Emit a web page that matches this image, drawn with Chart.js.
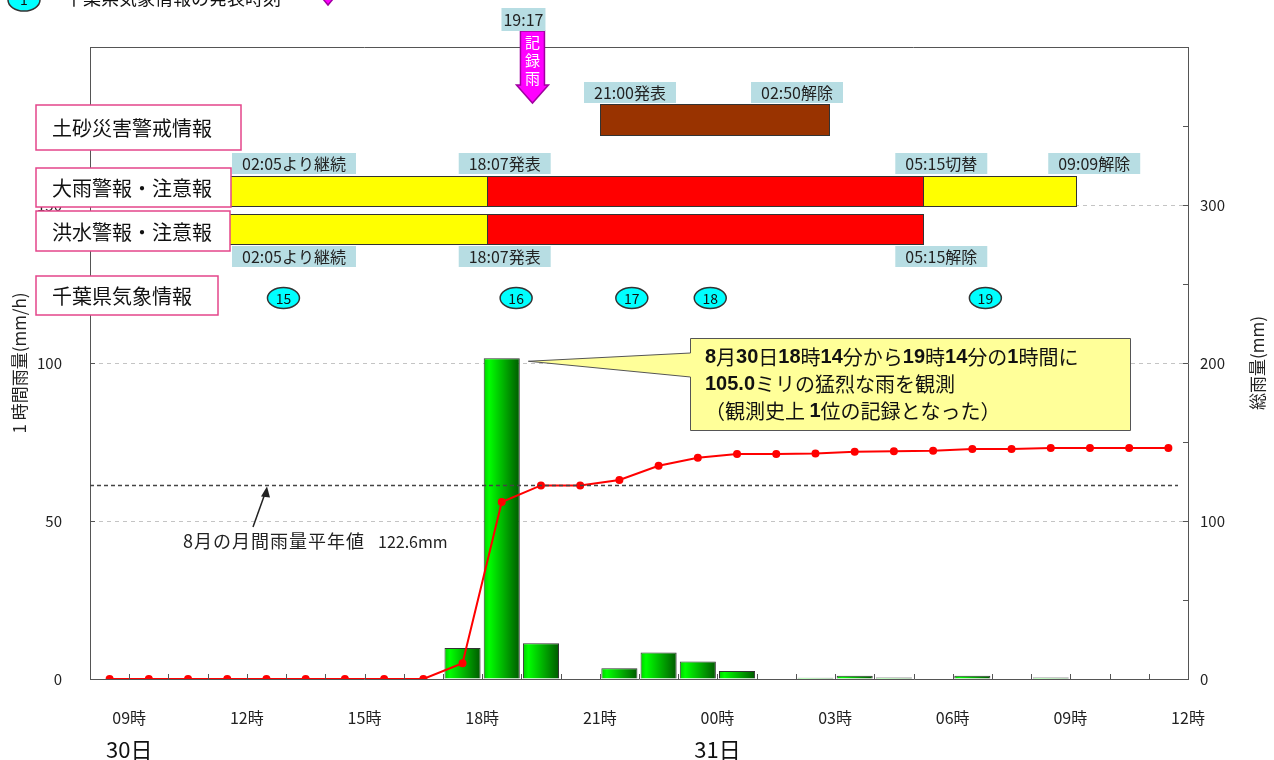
<!DOCTYPE html>
<html>
<head>
<meta charset="utf-8">
<script src="https://cdn.jsdelivr.net/npm/chart.js@4.4.1/dist/chart.umd.min.js"></script>
<style>
html, body { margin: 0; background: #fff; }
canvas { display: block; }
</style>
</head>
<body>
<canvas id="rainChart" width="1274" height="760"></canvas>
<script>
// hour bins, 30日 08時 .. 31日 11時
const hourLabels = ['08','09','10','11','12','13','14','15','16','17','18','19','20','21','22','23',
                    '00','01','02','03','04','05','06','07','08','09','10','11'];
const hourlyRain = [0,0,0,0,0,0,0,0,0,9.8,101.5,11.3,0,3.4,8.4,5.5,2.5,0,0.4,1.0,0.5,0,1.0,0,0.5,0,0,0];
const totalRain  = [0,0,0,0,0,0,0,0,0,10,112,122.5,122.5,126,135,140,142.4,142.4,142.8,143.9,144.1,144.5,
                    145.5,145.5,146.2,146.2,146.2,146.2];
const tickLabels = ['09時','12時','15時','18時','21時','00時','03時','06時','09時','12時'];
const tickHours  = [1,4,7,10,13,16,19,22,25,28];
const dayLabels = ['30日','31日'];
const dayLabelHours = [1,16];

// hours counted from 30日 08:00
const h = (day, hm) => {
    const [H, M] = hm.split(':').map(Number);
    return (day - 30) * 24 + H + M / 60 - 8;
};
const normalMonthly = 122.6;
const recordTime = h(30, '19:17');
const doshaTimes = [h(30, '21:00'), h(31, '02:50')];
const doshaTags = ['21:00発表', '02:50解除'];
const heavyRainTimes = [h(30, '02:05'), h(30, '18:07'), h(31, '05:15'), h(31, '09:09')];
const heavyRainTags = ['02:05より継続', '18:07発表', '05:15切替', '09:09解除'];
const floodTimes = [h(30, '02:05'), h(30, '18:07'), h(31, '05:15')];
const floodTags = ['02:05より継続', '18:07発表', '05:15解除'];
const warnLevels = ['注意報', '警報', '注意報'];
const infoNumbers = [15, 16, 17, 18, 19];
const infoTimes = [h(30, '12:56'), h(30, '18:52'), h(30, '21:49'), h(30, '23:49'), h(31, '06:50')];

const FONT = "'Noto Sans CJK JP', 'Noto Sans', sans-serif";
const NUMFONT = "'Liberation Sans', Arial, sans-serif";

function tag(ctx, text, x, y, align) {
    ctx.font = '16px ' + FONT;
    const w = ctx.measureText(text).width + 20;
    let left = x;
    if (align === 'right') left = x - w;
    if (align === 'center') left = x - w / 2;
    ctx.fillStyle = '#b7dde3';
    ctx.fillRect(left, y, w, 21);
    ctx.fillStyle = '#222';
    ctx.textAlign = 'left';
    ctx.textBaseline = 'middle';
    ctx.fillText(text, left + 10, y + 11);
}

function rowBox(ctx, text, x0, y0, x1, y1) {
    ctx.fillStyle = '#fff';
    ctx.fillRect(x0, y0, x1 - x0, y1 - y0);
    ctx.strokeStyle = '#e4468a';
    ctx.lineWidth = 1.5;
    ctx.strokeRect(x0, y0, x1 - x0, y1 - y0);
    ctx.fillStyle = '#111';
    ctx.font = '20px ' + FONT;
    ctx.textAlign = 'left';
    ctx.textBaseline = 'middle';
    ctx.fillText(text, x0 + 16, (y0 + y1) / 2 + 1);
}

function runs(ctx, text, x, y) {
    text.split(/([0-9.]+)/).forEach(part => {
        if (!part) return;
        ctx.font = /^[0-9.]+$/.test(part) ? 'bold 20px ' + NUMFONT : '20px ' + FONT;
        ctx.fillText(part, x, y);
        x += ctx.measureText(part).width;
    });
}

function barFill(c) {
    const xs = c.chart.scales.x;
    if (c.type !== 'data' || !xs) return '#00cc00';
    const l = xs.getPixelForValue(c.raw.x - 0.46);
    const r = xs.getPixelForValue(c.raw.x + 0.46);
    if (!isFinite(l) || !isFinite(r)) return '#00cc00';
    const g = c.chart.ctx.createLinearGradient(l, 0, r, 0);
    g.addColorStop(0, '#00d000');
    g.addColorStop(0.15, '#00ff00');
    g.addColorStop(1, '#005a00');
    return g;
}

const overlay = {
    id: 'overlay',
    afterDraw(chart) {
        const {ctx, chartArea: a, scales: {x, y, y2}} = chart;
        const xp = v => x.getPixelForValue(v);
        ctx.save();

        // inward tick marks and top frame
        ctx.strokeStyle = '#555';
        ctx.lineWidth = 1;
        ctx.beginPath();
        y.ticks.forEach(t => {
            if (t.value >= y.max) return;
            const p = Math.round(y.getPixelForValue(t.value)) + 0.5;
            ctx.moveTo(a.left, p); ctx.lineTo(a.left + 5, p);
        });
        y2.ticks.forEach(t => {
            if (t.value >= y2.max) return;
            const p = Math.round(y2.getPixelForValue(t.value)) + 0.5;
            ctx.moveTo(a.right - 5, p); ctx.lineTo(a.right, p);
        });
        x.ticks.forEach(t => {
            if (t.value <= x.min || t.value >= x.max) return;
            const p = Math.round(xp(t.value)) + 0.5;
            ctx.moveTo(p, a.bottom); ctx.lineTo(p, a.bottom - 5);
        });
        ctx.moveTo(a.left, a.top + 0.5); ctx.lineTo(a.right, a.top + 0.5);
        ctx.stroke();

        // monthly normal line
        const yn = Math.round(y2.getPixelForValue(normalMonthly)) + 0.5;
        ctx.strokeStyle = '#444';
        ctx.lineWidth = 1.5;
        ctx.setLineDash([4, 3]);
        ctx.beginPath();
        ctx.moveTo(a.left, yn); ctx.lineTo(a.right - 10, yn);
        ctx.stroke();
        ctx.setLineDash([]);
        ctx.lineWidth = 1.5;
        ctx.strokeStyle = '#222';
        ctx.fillStyle = '#222';
        ctx.beginPath();
        ctx.moveTo(253, 527); ctx.lineTo(265, yn + 8);
        ctx.stroke();
        ctx.beginPath();
        ctx.moveTo(267, yn + 1); ctx.lineTo(261, yn + 11); ctx.lineTo(270, yn + 12);
        ctx.closePath(); ctx.fill();
        ctx.font = '18px ' + FONT;
        ctx.textAlign = 'left';
        ctx.textBaseline = 'middle';
        ctx.letterSpacing = '1px';
        ctx.fillText('8月の月間雨量平年値', 183, 541);
        ctx.letterSpacing = '0px';
        ctx.font = '16px ' + FONT;
        ctx.fillText('122.6mm', 378, 542);

        // callout
        const tipX = xp(11) + 7, tipY = y.getPixelForValue(hourlyRain[10]) + 3;
        ctx.fillStyle = '#ffff99';
        ctx.strokeStyle = '#555';
        ctx.lineWidth = 1;
        ctx.beginPath();
        ctx.moveTo(690.5, 338.5); ctx.lineTo(1130.5, 338.5); ctx.lineTo(1130.5, 430.5); ctx.lineTo(690.5, 430.5);
        ctx.lineTo(690.5, 377); ctx.lineTo(tipX, tipY); ctx.lineTo(690.5, 353);
        ctx.closePath();
        ctx.fill(); ctx.stroke();
        ctx.fillStyle = '#111';
        ctx.textBaseline = 'middle';
        runs(ctx, '8月30日18時14分から19時14分の1時間に', 705, 357);
        runs(ctx, '105.0ミリの猛烈な雨を観測', 705, 384);
        runs(ctx, '（観測史上 1位の記録となった）', 705, 411);

        // 土砂災害警戒情報 bar
        ctx.fillStyle = '#993300';
        ctx.strokeStyle = '#333';
        ctx.lineWidth = 1;
        const d0 = Math.round(xp(doshaTimes[0])), d1 = Math.round(xp(doshaTimes[1]));
        ctx.fillRect(d0, 104, d1 - d0, 32);
        ctx.strokeRect(d0 + 0.5, 104.5, d1 - d0, 31);
        tag(ctx, doshaTags[0], d0 - 16, 82, 'left');
        tag(ctx, doshaTags[1], d1 + 14, 82, 'right');

        // warning rows
        const levelColor = lv => lv === '警報' ? '#ff0000' : '#ffff00';
        const drawRow = (times, top) => {
            for (let i = 0; i < times.length - 1; i++) {
                const s = Math.round(Math.max(xp(times[i]), a.left)), e = Math.round(xp(times[i + 1]));
                ctx.fillStyle = levelColor(warnLevels[i]);
                ctx.fillRect(s, top, e - s, 31);
                ctx.strokeStyle = '#333';
                ctx.strokeRect(s + 0.5, top + 0.5, e - s, 30);
            }
        };
        drawRow(heavyRainTimes, 176);
        drawRow(floodTimes, 214);

        rowBox(ctx, '土砂災害警戒情報', 36, 105, 241, 150);
        rowBox(ctx, '大雨警報・注意報', 36, 168, 231, 207);
        rowBox(ctx, '洪水警報・注意報', 36, 211, 230, 251);
        rowBox(ctx, '千葉県気象情報', 36, 276, 218, 315);

        heavyRainTags.forEach((t, i) => {
            if (i === 0) tag(ctx, t, 232, 153, 'left');
            else tag(ctx, t, xp(heavyRainTimes[i]) - 28, 153, 'left');
        });
        floodTags.forEach((t, i) => {
            if (i === 0) tag(ctx, t, 232, 246, 'left');
            else tag(ctx, t, xp(floodTimes[i]) - 28, 246, 'left');
        });

        // info bulletins
        infoTimes.forEach((t, i) => {
            const cx = xp(t);
            ctx.beginPath();
            ctx.ellipse(cx, 298, 16, 10.5, 0, 0, Math.PI * 2);
            ctx.fillStyle = '#00ffff';
            ctx.fill();
            ctx.strokeStyle = '#333';
            ctx.stroke();
            ctx.fillStyle = '#111';
            ctx.font = '14px ' + FONT;
            ctx.textAlign = 'center';
            ctx.fillText(String(infoNumbers[i]), cx, 299);
        });

        // 記録雨 arrow
        const xr = xp(recordTime);
        ctx.beginPath();
        ctx.moveTo(xr - 12, 31); ctx.lineTo(xr + 12, 31); ctx.lineTo(xr + 12, 85);
        ctx.lineTo(xr + 16, 85); ctx.lineTo(xr, 103); ctx.lineTo(xr - 16, 85);
        ctx.lineTo(xr - 12, 85); ctx.closePath();
        ctx.fillStyle = '#ff00ff';
        ctx.fill();
        ctx.strokeStyle = '#a000a0';
        ctx.stroke();
        ctx.fillStyle = '#fff';
        ctx.font = '15px ' + FONT;
        ctx.textAlign = 'center';
        ['記', '録', '雨'].forEach((c, i) => ctx.fillText(c, xr, 42 + i * 18));
        ctx.font = '16px ' + FONT;
        ctx.fillStyle = '#b7dde3';
        ctx.fillRect(xr - 31, 8, 44, 23);
        ctx.fillStyle = '#222';
        ctx.fillText('19:17', xr - 9, 20);

        // legend cut at top
        ctx.beginPath();
        ctx.ellipse(24, 0, 16, 11, 0, 0, Math.PI * 2);
        ctx.fillStyle = '#00ffff';
        ctx.fill();
        ctx.strokeStyle = '#333';
        ctx.stroke();
        ctx.fillStyle = '#111';
        ctx.font = '14px ' + FONT;
        ctx.fillText('1', 24, 0);
        ctx.font = '18px ' + FONT;
        ctx.textAlign = 'left';
        ctx.fillText('千葉県気象情報の発表時刻', 65, -2);
        ctx.beginPath();
        ctx.moveTo(323, -1); ctx.lineTo(333, -1); ctx.lineTo(328, 5); ctx.closePath();
        ctx.fillStyle = '#ff00ff';
        ctx.fill();
        ctx.strokeStyle = '#a000a0';
        ctx.stroke();

        // day labels
        ctx.fillStyle = '#111';
        ctx.font = '22px ' + FONT;
        ctx.textAlign = 'center';
        dayLabels.forEach((d, i) => ctx.fillText(d, xp(dayLabelHours[i]), 750));

        // right axis title, reading bottom to top
        ctx.translate(1258, (a.top + a.bottom) / 2);
        ctx.rotate(-Math.PI / 2);
        ctx.font = '17px ' + FONT;
        ctx.fillStyle = '#222';
        ctx.fillText('総雨量(mm)', 0, 0);
        ctx.restore();
    }
};

const ctx = document.getElementById('rainChart').getContext('2d');
new Chart(ctx, {
    type: 'bar',
    data: {
        labels: hourLabels,
        datasets: [{
            type: 'line',
            label: '総雨量',
            data: totalRain.map((v, i) => ({x: i + 0.5, y: v})),
            yAxisID: 'y2',
            borderColor: '#ff0000',
            backgroundColor: '#ff0000',
            borderWidth: 2,
            pointRadius: 3,
            pointHoverRadius: 3,
            tension: 0,
            order: 0
        }, {
            label: '1時間雨量',
            data: hourlyRain.map((v, i) => ({x: i + 0.5, y: v})),
            yAxisID: 'y',
            backgroundColor: barFill,
            borderColor: '#333',
            borderWidth: 1,
            barPercentage: 1,
            categoryPercentage: 0.92,
            order: 1
        }]
    },
    options: {
        responsive: false,
        animation: false,
        layout: {padding: {top: 47}},
        plugins: {
            legend: {display: false},
            tooltip: {enabled: false}
        },
        scales: {
            x: {
                type: 'linear',
                min: 0,
                max: 28,
                offset: false,
                afterFit: s => { s.height = 81; },
                grid: {display: false, drawTicks: false},
                border: {color: '#555'},
                ticks: {
                    stepSize: 1,
                    autoSkip: false,
                    maxRotation: 0,
                    padding: 29,
                    color: '#222',
                    font: {family: FONT, size: 16},
                    callback: v => {
                        const i = tickHours.indexOf(v);
                        return i < 0 ? '' : tickLabels[i];
                    }
                }
            },
            y: {
                position: 'left',
                min: 0,
                max: 200,
                afterFit: s => { s.width = 90; },
                grid: {
                    drawTicks: false,
                    color: c => [50, 100, 150].includes(c.tick && c.tick.value) ? '#c4c4c4' : 'rgba(0,0,0,0)'
                },
                border: {color: '#555', dash: [4, 4]},
                ticks: {
                    stepSize: 50,
                    padding: 28,
                    color: '#222',
                    font: {family: FONT, size: 15},
                    callback: v => v === 200 ? '' : v
                },
                title: {
                    display: true,
                    text: '1 時間雨量(mm/h)',
                    color: '#222',
                    font: {family: FONT, size: 17},
                    padding: {top: 9, bottom: 0}
                }
            },
            y2: {
                position: 'right',
                min: 0,
                max: 400,
                afterFit: s => { s.width = 86; },
                grid: {display: false, drawTicks: false},
                border: {color: '#555'},
                ticks: {
                    stepSize: 50,
                    padding: 12,
                    color: '#222',
                    font: {family: FONT, size: 15},
                    callback: v => (v % 100 === 0 && v < 400) ? v : ''
                }
            }
        }
    },
    plugins: [overlay]
});
</script>
</body>
</html>
